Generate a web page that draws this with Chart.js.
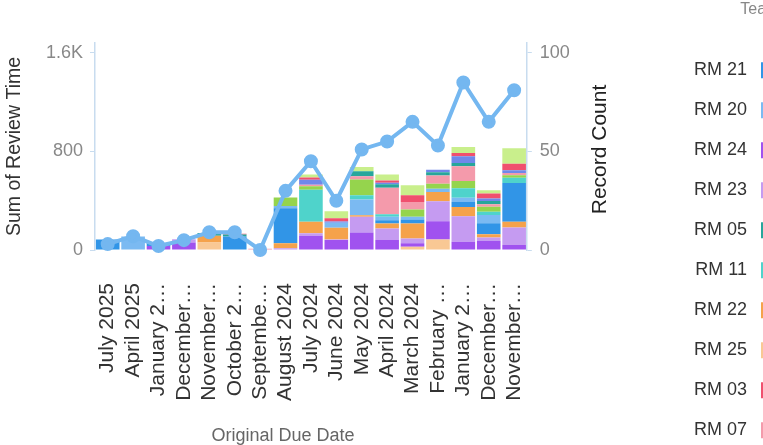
<!DOCTYPE html>
<html>
<head>
<meta charset="utf-8">
<script src="https://cdn.jsdelivr.net/npm/chart.js@4.4.1/dist/chart.umd.min.js"></script>
<style>
  html, body { margin: 0; padding: 0; overflow: hidden; background: #fff; }
</style>
</head>
<body>
<canvas id="chart" width="829" height="467"></canvas>
<script>
const FONT = '"Liberation Sans", Arial, Helvetica, sans-serif';

// categories as shown on the axis (long names are cut off in the original)
const categories = [
  "July 2025", "April 2025", "January 2…", "December…", "November…",
  "October 2…", "Septembe…", "August 2024", "July 2024", "June 2024",
  "May 2024", "April 2024", "March 2024", "February …", "January 2…",
  "December…", "November…"
];

// Record Count (line, right axis)
const recordCount = [3, 7, 2, 5, 9, 9, 0, 30, 45, 25, 51, 55, 65, 53, 85, 65, 81];

// Sum of Review Time per team, stacked bottom -> top
const teams = ["RM 25", "RM 24", "RM 23", "RM 22", "RM 21", "RM 20", "RM 11",
               "RM 18", "RM 07", "RM 05", "RM 14", "RM 03", "RM 26"];
const teamColors = ["#f9c894", "#a052ef", "#c59bf1", "#f5a24b", "#3195e7", "#7bbaf2", "#4fd3cb",
                    "#95d44d", "#f49aab", "#27a69b", "#6f88ea", "#f0506e", "#c9ef8c"];
const rm25 = [0, 0, 0, 0, 60, 0, 0, 0, 0, 0, 0, 0, 27, 86, 0, 0, 0];
const rm24 = [0, 0, 32, 60, 0, 0, 0, 0, 116, 81, 143, 81, 27, 148, 67, 74, 40];
const rm23 = [0, 0, 0, 27, 0, 0, 0, 15, 19, 5, 127, 94, 40, 162, 207, 27, 143];
const rm22 = [0, 0, 0, 0, 55, 0, 0, 40, 94, 95, 13, 40, 121, 75, 75, 27, 46];
const rm21 = [86, 0, 22, 0, 0, 110, 0, 283, 0, 0, 0, 27, 32, 0, 40, 89, 315];
const rm20 = [0, 110, 0, 0, 0, 0, 0, 19, 0, 40, 127, 27, 22, 27, 35, 67, 0];
const rm11 = [0, 0, 0, 0, 0, 0, 0, 0, 261, 0, 35, 22, 0, 0, 78, 27, 43];
const rm18 = [0, 0, 0, 0, 0, 0, 0, 70, 27, 0, 127, 0, 59, 40, 57, 40, 19];
const rm07 = [0, 0, 0, 0, 0, 0, 10, 0, 13, 0, 27, 215, 62, 67, 120, 20, 19];
const rm05 = [0, 0, 0, 0, 22, 16, 0, 0, 0, 0, 40, 27, 0, 27, 27, 27, 0];
const rm14 = [0, 0, 0, 0, 0, 0, 0, 0, 40, 10, 0, 13, 0, 19, 54, 20, 22];
const rm03 = [0, 0, 0, 0, 0, 6, 0, 0, 19, 27, 0, 19, 54, 0, 27, 40, 54];
const rm26 = [0, 0, 0, 0, 0, 0, 0, 0, 23, 56, 35, 48, 81, 0, 48, 27, 124];
const reviewTime = [rm25, rm24, rm23, rm22, rm21, rm20, rm11, rm18, rm07, rm05, rm14, rm03, rm26];

// legend order as listed in the original (the rest is scrolled out of view)
const legendTeams = ["RM 21", "RM 20", "RM 24", "RM 23", "RM 05", "RM 11", "RM 22", "RM 25", "RM 03", "RM 07"];

const yTickValues = [0, 800, 1600];
const yTickLabels = ["0", "800", "1.6K"];
const y1TickValues = [0, 50, 100];
const y1TickLabels = ["0", "50", "100"];

const leftTitle = "Sum of Review Time";
const rightTitle = "Record Count";
const bottomTitle = "Original Due Date";
const legendTitle = "Team";

const lineColor = "#74b7f0";
const axisColor = "#c8dcef";

Chart.defaults.font.family = FONT;

// right axis title reads bottom-to-top in the original, and the
// bottom title sits a little left of the plot centre
const axisTitlesPlugin = {
  id: "axisTitles",
  afterDraw(chart) {
    const { ctx, chartArea, scales } = chart;
    ctx.save();
    ctx.textAlign = "center";
    ctx.textBaseline = "middle";

    ctx.font = "18px " + FONT;
    ctx.fillStyle = "#666";
    ctx.fillText(bottomTitle, (chartArea.left + chartArea.right) / 2 - 28, scales.x.bottom - 31);

    ctx.translate(scales.y1.left + 73, (chartArea.top + chartArea.bottom) / 2 + 3);
    ctx.rotate(-Math.PI / 2);
    ctx.font = "21px " + FONT;
    ctx.fillStyle = "#222";
    ctx.fillText(rightTitle, 0, 0);
    ctx.restore();
  }
};

const datasets = [
  {
    type: "line",
    label: rightTitle,
    data: recordCount,
    yAxisID: "y1",
    order: 0,
    borderColor: lineColor,
    backgroundColor: lineColor,
    pointBackgroundColor: lineColor,
    pointBorderColor: lineColor,
    borderWidth: 4,
    pointRadius: 5,
    pointHoverRadius: 5,
    tension: 0,
    clip: false
  }
];
teams.forEach((name, i) => {
  datasets.push({
    type: "bar",
    label: name,
    data: reviewTime[i],
    backgroundColor: teamColors[i],
    yAxisID: "y",
    stack: "time",
    order: 1,
    barPercentage: 0.93,
    categoryPercentage: 1
  });
});

new Chart(document.getElementById("chart"), {
  data: { labels: categories, datasets: datasets },
  plugins: [axisTitlesPlugin],
  options: {
    responsive: false,
    animation: false,
    layout: { padding: 0 },
    scales: {
      x: {
        stacked: true,
        afterFit: (s) => { s.height = 217; },
        grid: { display: false, drawTicks: false, tickLength: 0 },
        border: { display: false },
        ticks: {
          autoSkip: false, minRotation: 90, maxRotation: 90,
          padding: 33, color: "#333", font: { size: 21 }
        }
      },
      y: {
        stacked: true,
        min: 0,
        max: 1680,
        afterBuildTicks: (s) => { s.ticks = yTickValues.map((v) => ({ value: v })); },
        afterFit: (s) => { s.width = 95; },
        ticks: {
          callback: (v, i) => yTickLabels[i],
          color: "#888", font: { size: 18 }, padding: 7
        },
        grid: { drawOnChartArea: false, tickLength: 5, color: axisColor },
        border: { color: axisColor, width: 1.5 },
        title: {
          display: true, text: leftTitle, color: "#333",
          font: { size: 19.5 }, padding: { top: 3, bottom: 19 }
        }
      },
      y1: {
        position: "right",
        min: 0,
        max: 105,
        afterBuildTicks: (s) => { s.ticks = y1TickValues.map((v) => ({ value: v })); },
        afterFit: (s) => { s.width = 164; },
        ticks: {
          callback: (v, i) => y1TickLabels[i],
          color: "#888", font: { size: 18 }, padding: 8
        },
        grid: { drawOnChartArea: false, tickLength: 5, color: axisColor },
        border: { color: axisColor, width: 1.5 }
      }
    },
    plugins: {
      tooltip: { enabled: false },
      title: { display: true, text: "", fullSize: false, padding: { top: 0, bottom: 28.6 } },
      legend: {
        position: "right",
        align: "start",
        rtl: true,
        title: {
          display: true, text: legendTitle, color: "#888",
          font: { size: 16 }, padding: { top: 2, bottom: 18 }
        },
        labels: {
          boxWidth: 46, boxHeight: 16, padding: 22,
          color: "#333", font: { size: 18 },
          filter: (item) => legendTeams.includes(item.text.trim()),
          sort: (a, b) => legendTeams.indexOf(a.text.trim()) - legendTeams.indexOf(b.text.trim()),
          generateLabels: (chart) =>
            Chart.defaults.plugins.legend.labels.generateLabels(chart)
              .map((l) => Object.assign(l, { text: l.text + " " }))
        }
      }
    }
  }
});
</script>
</body>
</html>
